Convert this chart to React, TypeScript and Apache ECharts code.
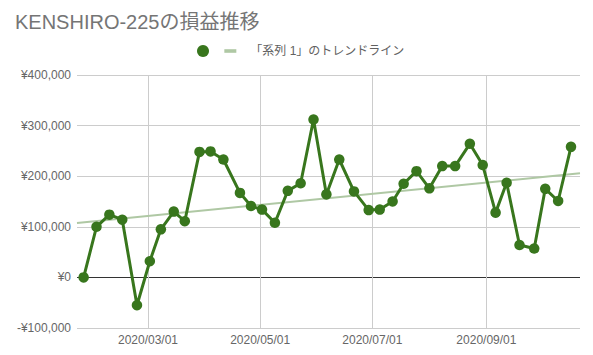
import { useEffect, useRef } from 'react';
import * as echarts from 'echarts';

const titleText = 'KENSHIRO-225の損益推移';
const seriesName = ' ';
const trendName = '「系列 1」のトレンドライン';

const dates = [
  '2020-01-26', '2020-02-02', '2020-02-09', '2020-02-16', '2020-02-24', '2020-03-02',
  '2020-03-08', '2020-03-15', '2020-03-21', '2020-03-29', '2020-04-04', '2020-04-11',
  '2020-04-20', '2020-04-26', '2020-05-02', '2020-05-09', '2020-05-16', '2020-05-23',
  '2020-05-30', '2020-06-06', '2020-06-13', '2020-06-21', '2020-06-29', '2020-07-05',
  '2020-07-12', '2020-07-18', '2020-07-25', '2020-08-01', '2020-08-08', '2020-08-15',
  '2020-08-23', '2020-08-30', '2020-09-06', '2020-09-12', '2020-09-19', '2020-09-27',
  '2020-10-03', '2020-10-10', '2020-10-17',
];

const values = [
  0, 100000, 124000, 114000, -55000, 32000,
  95000, 130000, 111000, 248000, 249000, 233000,
  167000, 141000, 134000, 108000, 171000, 186000,
  312000, 164000, 233000, 170000, 133000, 134000,
  150000, 185000, 210000, 176000, 220000, 220000,
  264000, 222000, 128000, 187000, 64000, 57000,
  175000, 151000, 258000,
];

const yTicks = [-100000, 0, 100000, 200000, 300000, 400000];
const xTickDates = ['2020-03-01', '2020-05-01', '2020-07-01', '2020-09-01'];
const xRange = ['2020-01-22T09:30', '2020-10-21T21:30'];

const FONT = '"Liberation Sans", Arial, "Noto Sans CJK JP", sans-serif';

function toTs(s: string): number {
  const [d, t] = s.split('T');
  const [y, m, day] = d.split('-').map(Number);
  let hh = 0, mm = 0;
  if (t) {
    [hh, mm] = t.split(':').map(Number);
  }
  return new Date(y, m - 1, day, hh, mm).getTime();
}

function pad(n: number) {
  return n < 10 ? '0' + n : '' + n;
}

function fmtDate(v: number) {
  const d = new Date(v);
  return d.getFullYear() + '/' + pad(d.getMonth() + 1) + '/' + pad(d.getDate());
}

function fmtYen(v: number) {
  const s = Math.abs(v).toLocaleString('en-US');
  return (v < 0 ? '-' : '') + '¥' + s;
}

export default function App() {
  const ref = useRef<HTMLDivElement>(null);

  useEffect(() => {
    if (!ref.current) return;
    const chart = echarts.init(ref.current, undefined, { renderer: 'svg' });

    const xs = dates.map(toTs);
    const pts = xs.map((x, i) => [x, values[i]]);
    // least squares trend line
    const n = xs.length;
    const mx = xs.reduce((a, b) => a + b, 0) / n;
    const my = values.reduce((a, b) => a + b, 0) / n;
    let sxy = 0, sxx = 0;
    for (let i = 0; i < n; i++) {
      sxy += (xs[i] - mx) * (values[i] - my);
      sxx += (xs[i] - mx) * (xs[i] - mx);
    }
    const slope = sxy / sxx;
    const xMin = toTs(xRange[0]);
    const xMax = toTs(xRange[1]);
    const trend = [
      [xMin, my + slope * (xMin - mx)],
      [xMax, my + slope * (xMax - mx)],
    ];
    const xTicks = xTickDates.map(toTs);

    chart.setOption({
      animation: false,
      textStyle: { fontFamily: FONT },
      title: {
        text: titleText,
        left: 15,
        top: 12,
        padding: 0,
        textStyle: { fontSize: 20, fontWeight: 'normal', color: '#757575', fontFamily: FONT },
      },
      legend: {
        left: 197,
        top: 45,
        padding: 0,
        itemGap: 7,
        itemWidth: 12,
        itemHeight: 12,
        textStyle: { fontSize: 12, color: '#616161', fontFamily: FONT },
        data: [
          { name: seriesName, icon: 'circle', itemStyle: { color: '#38761d' } },
          {
            name: trendName,
            icon: 'path://M0,0H11V3.3H0Z',
            itemStyle: { color: '#afc8a4' },
            textStyle: { padding: [0, 0, 0, 9] },
          },
        ],
      },
      grid: { left: 77, right: 13, top: 75, bottom: 27, containLabel: false },
      xAxis: {
        type: 'value',
        min: xMin,
        max: xMax,
        scale: true,
        axisLine: { show: false, onZero: false },
        axisTick: { show: false, customValues: xTicks },
        axisLabel: {
          customValues: xTicks,
          formatter: (v: number) => fmtDate(v),
          color: '#666',
          fontSize: 12,
          margin: 6,
          fontFamily: FONT,
        },
        splitLine: { show: true, lineStyle: { color: '#cccccc', width: 1 } },
      },
      yAxis: {
        type: 'value',
        min: yTicks[0],
        max: yTicks[yTicks.length - 1],
        interval: yTicks[1] - yTicks[0],
        axisLine: { show: false },
        axisTick: { show: false },
        axisLabel: {
          formatter: (v: number) => fmtYen(v),
          color: '#666',
          fontSize: 12,
          margin: 6,
          fontFamily: FONT,
        },
        splitLine: {
          show: true,
          lineStyle: { color: yTicks.map((t) => (t === 0 ? '#333333' : '#cccccc')), width: 1 },
        },
      },
      series: [
        {
          name: trendName,
          type: 'line',
          data: trend,
          symbol: 'none',
          lineStyle: { color: '#afc8a4', width: 2 },
          itemStyle: { color: '#afc8a4' },
          z: 1,
        },
        {
          name: seriesName,
          type: 'line',
          data: pts,
          symbol: 'circle',
          symbolSize: 10.5,
          lineStyle: { color: '#38761d', width: 3 },
          itemStyle: { color: '#38761d' },
          z: 3,
        },
      ],
    });

    return () => chart.dispose();
  }, []);

  return <div ref={ref} style={{ width: 593, height: 355, position: 'absolute', left: 0, top: 0 }} />;
}
